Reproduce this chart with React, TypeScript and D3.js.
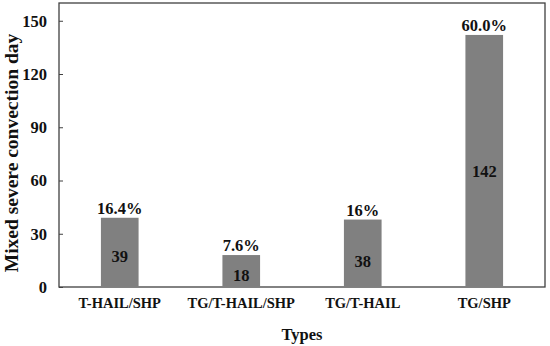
import React, { useEffect, useRef } from "react";
import * as d3 from "d3";

const types = ["T-HAIL/SHP", "TG/T-HAIL/SHP", "TG/T-HAIL", "TG/SHP"];
const days = [39, 18, 38, 142];
const shares = ["16.4%", "7.6%", "16%", "60.0%"];
// where the count sits inside each bar, in axis units
const countAt = [17.5, 6.5, 14.5, 65.5];
const yTicks = [0, 30, 60, 90, 120, 150];

const App = () => {
  const ref = useRef<SVGSVGElement>(null);

  useEffect(() => {
    const width = 550;
    const height = 346;
    const margin = { top: 3, right: 5, bottom: 59, left: 59 };
    const font = "Liberation Serif";

    const svg = d3.select(ref.current)
      .attr("width", width)
      .attr("height", height)
      .style("position", "absolute")
      .style("left", "0px")
      .style("top", "0px")
      .style("background", "#fff");
    svg.selectAll("*").remove();

    const x = d3.scaleBand()
      .domain(types)
      .range([margin.left, width - margin.right])
      .paddingInner(0.69)
      .paddingOuter(0.345);

    const y = d3.scaleLinear()
      .domain([0, 160])
      .range([height - margin.bottom, margin.top]);

    // frame
    svg.append("rect")
      .attr("x", margin.left)
      .attr("y", margin.top)
      .attr("width", width - margin.left - margin.right)
      .attr("height", height - margin.top - margin.bottom)
      .attr("fill", "none")
      .attr("stroke", "#404040")
      .attr("stroke-width", 1.3);

    // bars
    svg.append("g")
      .selectAll("rect")
      .data(days)
      .join("rect")
        .attr("x", (d, i) => x(types[i]))
        .attr("y", d => y(d))
        .attr("width", x.bandwidth())
        .attr("height", d => y(0) - y(d))
        .attr("fill", "#808080");

    const yAxis = svg.append("g")
      .attr("transform", `translate(${margin.left},0)`)
      .call(d3.axisLeft(y).tickValues(yTicks).tickSize(-4).tickPadding(12));
    yAxis.attr("font-family", font).attr("font-weight", "bold").attr("font-size", 16.5);
    yAxis.select(".domain").remove();
    yAxis.selectAll("line").attr("stroke", "#404040");
    yAxis.selectAll("text").attr("fill", "#111");

    const xAxis = svg.append("g")
      .attr("transform", `translate(0,${height - margin.bottom})`)
      .call(d3.axisBottom(x).tickSize(0).tickPadding(11));
    xAxis.attr("font-family", font).attr("font-weight", "bold").attr("font-size", 14.5);
    xAxis.select(".domain").remove();
    xAxis.selectAll("text").attr("fill", "#111");

    const labels = svg.append("g")
      .attr("font-family", font)
      .attr("font-weight", "bold")
      .attr("fill", "#111");

    // counts inside bars
    labels.append("g")
      .selectAll("text")
      .data(days)
      .join("text")
        .attr("x", (d, i) => x(types[i])! + x.bandwidth() / 2)
        .attr("y", (d, i) => y(countAt[i]))
        .attr("dy", "0.35em")
        .attr("text-anchor", "middle")
        .attr("font-size", 16.5)
        .text(d => d);

    // shares above bars
    labels.append("g")
      .selectAll("text")
      .data(days)
      .join("text")
        .attr("x", (d, i) => x(types[i])! + x.bandwidth() / 2)
        .attr("y", d => y(d) - 4)
        .attr("text-anchor", "middle")
        .attr("font-size", 16.5)
        .text((d, i) => shares[i]);

    labels.append("text")
      .attr("x", (margin.left + width - margin.right) / 2)
      .attr("y", 340)
      .attr("text-anchor", "middle")
      .attr("font-size", 16.5)
      .text("Types");

    labels.append("text")
      .attr("transform", `translate(18,153) rotate(-90)`)
      .attr("text-anchor", "middle")
      .attr("font-size", 19.5)
      .text("Mixed severe convection day");
  }, []);

  return <svg ref={ref}></svg>;
};

export default App;
